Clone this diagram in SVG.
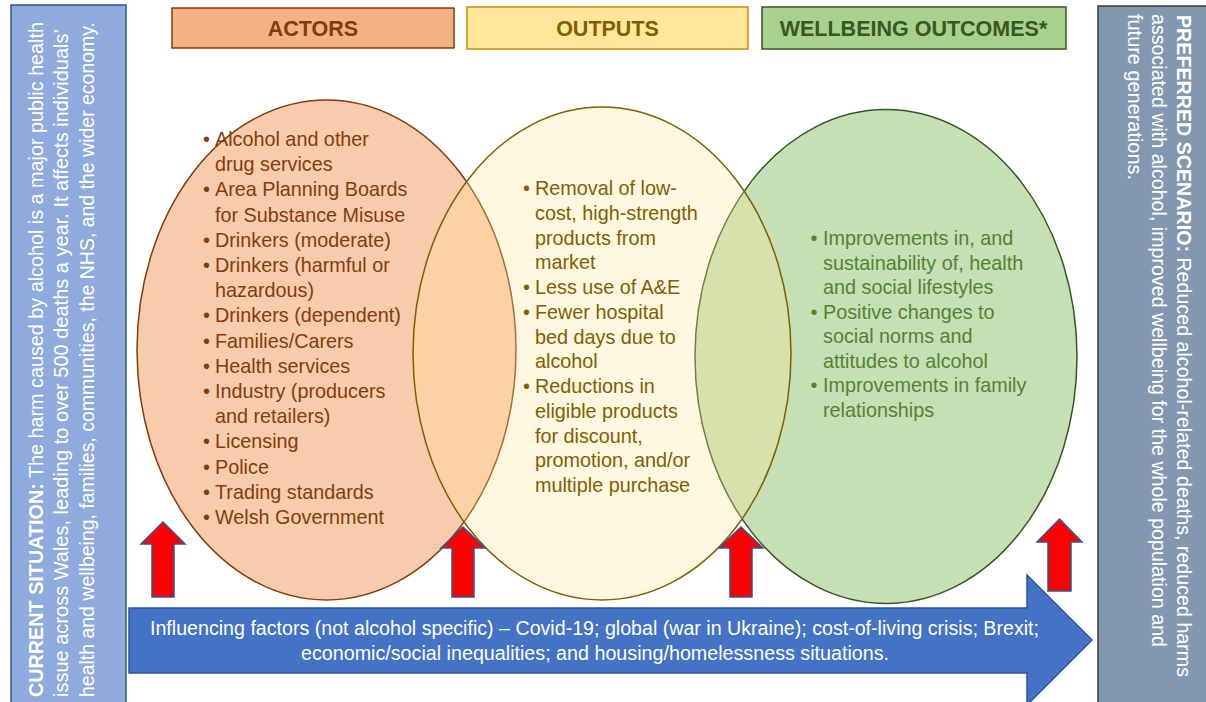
<svg xmlns="http://www.w3.org/2000/svg" width="1206" height="702" viewBox="0 0 1206 702">
<style>
text { font-family: "Liberation Sans", Arial, sans-serif; }
.hdr { font-size: 21.5px; font-weight: bold; text-anchor: middle; }
.vt { font-size: 19.8px; }
.act { fill: #843C0C; }
.out { fill: #7F6000; }
.wb { fill: #548235; }
.side { font-size: 19.5px; fill: #FFFFFF; }
.up { fill: #FF0000; stroke: #2F5597; stroke-width: 1.5; stroke-linejoin: miter; }
.inf { font-size: 19.5px; fill: #FFFFFF; text-anchor: middle; }
</style>

<g id="current-situation">
  <rect x="11" y="5" width="115" height="702" fill="#8FAADC" stroke="#2F5597" stroke-width="1.5"/>
  <text class="side" transform="translate(43,697) rotate(-90)" textLength="675" lengthAdjust="spacingAndGlyphs"><tspan font-weight="bold">CURRENT SITUATION:</tspan> The harm caused by alcohol is a major public health</text>
  <text class="side" transform="translate(68,697) rotate(-90)" textLength="668" lengthAdjust="spacingAndGlyphs">issue across Wales, leading to over 500 deaths a year. It affects individuals’</text>
  <text class="side" transform="translate(94,697) rotate(-90)" textLength="675" lengthAdjust="spacingAndGlyphs">health and wellbeing, families, communities, the NHS, and the wider economy.</text>
</g>

<g id="preferred-scenario">
  <rect x="1098" y="6" width="112" height="702" fill="#8497B0" stroke="#3A3A3A" stroke-width="1.5"/>
  <text class="side" transform="translate(1177,15) rotate(90)" textLength="662" lengthAdjust="spacingAndGlyphs"><tspan font-weight="bold">PREFERRED SCENARIO:</tspan> Reduced alcohol-related deaths, reduced harms</text>
  <text class="side" transform="translate(1152,14) rotate(90)" textLength="633" lengthAdjust="spacingAndGlyphs">associated with alcohol, improved wellbeing for the whole population and</text>
  <text class="side" transform="translate(1128,14) rotate(90)" textLength="166" lengthAdjust="spacingAndGlyphs">future generations.</text>
</g>

<g id="header-actors">
  <rect x="172" y="8" width="282" height="40" fill="#F4B183" stroke="#843C0C" stroke-width="1.5"/>
  <text class="hdr act" x="313" y="35.5">ACTORS</text>
</g>
<g id="header-outputs">
  <rect x="467" y="7" width="281" height="42" fill="#FFE699" stroke="#BF9000" stroke-width="1.5"/>
  <text class="hdr out" x="607.5" y="35.5">OUTPUTS</text>
</g>
<g id="header-wellbeing">
  <rect x="762" y="7" width="304" height="42" fill="#A9D18E" stroke="#385723" stroke-width="1.5"/>
  <text class="hdr" fill="#385723" x="913.5" y="35.5">WELLBEING OUTCOMES*</text>
</g>

<g id="ellipse-actors">
  <ellipse cx="326.5" cy="350" rx="189.5" ry="250" fill="#F8CBAD" stroke="#843C0C" stroke-width="1.5"/>
</g>
<g id="ellipse-wellbeing">
  <ellipse cx="886" cy="356.5" rx="191" ry="247" fill="#C5E0B4" stroke="#385723" stroke-width="1.5"/>
</g>
<g id="ellipse-outputs">
  <ellipse cx="602" cy="353.5" rx="189" ry="246.5" fill="#FFE699" fill-opacity="0.3" stroke="#7F6000" stroke-width="1.5"/>
</g>

<g id="actors-list" class="vt act">
  <text x="203" y="146">•</text><text x="215" y="146">Alcohol and other</text>
  <text x="215" y="171.2">drug services</text>
  <text x="203" y="196.4">•</text><text x="215" y="196.4">Area Planning Boards</text>
  <text x="215" y="221.6">for Substance Misuse</text>
  <text x="203" y="246.8">•</text><text x="215" y="246.8">Drinkers (moderate)</text>
  <text x="203" y="272">•</text><text x="215" y="272">Drinkers (harmful or</text>
  <text x="215" y="297.2">hazardous)</text>
  <text x="203" y="322.4">•</text><text x="215" y="322.4">Drinkers (dependent)</text>
  <text x="203" y="347.6">•</text><text x="215" y="347.6">Families/Carers</text>
  <text x="203" y="372.8">•</text><text x="215" y="372.8">Health services</text>
  <text x="203" y="398">•</text><text x="215" y="398">Industry (producers</text>
  <text x="215" y="423.2">and retailers)</text>
  <text x="203" y="448.4">•</text><text x="215" y="448.4">Licensing</text>
  <text x="203" y="473.6">•</text><text x="215" y="473.6">Police</text>
  <text x="203" y="498.8">•</text><text x="215" y="498.8">Trading standards</text>
  <text x="203" y="524">•</text><text x="215" y="524">Welsh Government</text>
</g>

<g id="outputs-list" class="vt out">
  <text x="523" y="195">•</text><text x="535" y="195">Removal of low-</text>
  <text x="535" y="219.75">cost, high-strength</text>
  <text x="535" y="244.5">products from</text>
  <text x="535" y="269.25">market</text>
  <text x="523" y="294">•</text><text x="535" y="294">Less use of A&amp;E</text>
  <text x="523" y="318.75">•</text><text x="535" y="318.75">Fewer hospital</text>
  <text x="535" y="343.5">bed days due to</text>
  <text x="535" y="368.25">alcohol</text>
  <text x="523" y="393">•</text><text x="535" y="393">Reductions in</text>
  <text x="535" y="417.75">eligible products</text>
  <text x="535" y="442.5">for discount,</text>
  <text x="535" y="467.25">promotion, and/or</text>
  <text x="535" y="492">multiple purchase</text>
</g>

<g id="wellbeing-list" class="vt wb">
  <text x="810.5" y="245">•</text><text x="823" y="245">Improvements in, and</text>
  <text x="823" y="269.6">sustainability of, health</text>
  <text x="823" y="294.1">and social lifestyles</text>
  <text x="810.5" y="318.7">•</text><text x="823" y="318.7">Positive changes to</text>
  <text x="823" y="343.3">social norms and</text>
  <text x="823" y="367.9">attitudes to alcohol</text>
  <text x="810.5" y="392.4">•</text><text x="823" y="392.4">Improvements in family</text>
  <text x="823" y="417">relationships</text>
</g>

<g id="influencing-factors">
  <path d="M129,608 H1027 V575 L1092,640 L1027,705 V673 H129 Z" fill="#4472C4" stroke="#2F5597" stroke-width="1.5"/>
  <text class="inf" x="594.5" y="635" textLength="889" lengthAdjust="spacingAndGlyphs">Influencing factors (not alcohol specific) – Covid-19; global (war in Ukraine); cost-of-living crisis; Brexit;</text>
  <text class="inf" x="595" y="660" textLength="588" lengthAdjust="spacingAndGlyphs">economic/social inequalities; and housing/homelessness situations.</text>
</g>

<g id="connectors">
  <path class="up" d="M163,522 L185,544 H174 V597 H152 V544 H141 Z"/>
  <path class="up" d="M463,527 L485,548 H474 V597 H452 V548 H441 Z"/>
  <path class="up" d="M741,527 L763,548 H752 V597 H730 V548 H719 Z"/>
  <path class="up" d="M1059.5,519 L1082,542 H1071 V591 H1048 V542 H1037 Z"/>
</g>
</svg>
